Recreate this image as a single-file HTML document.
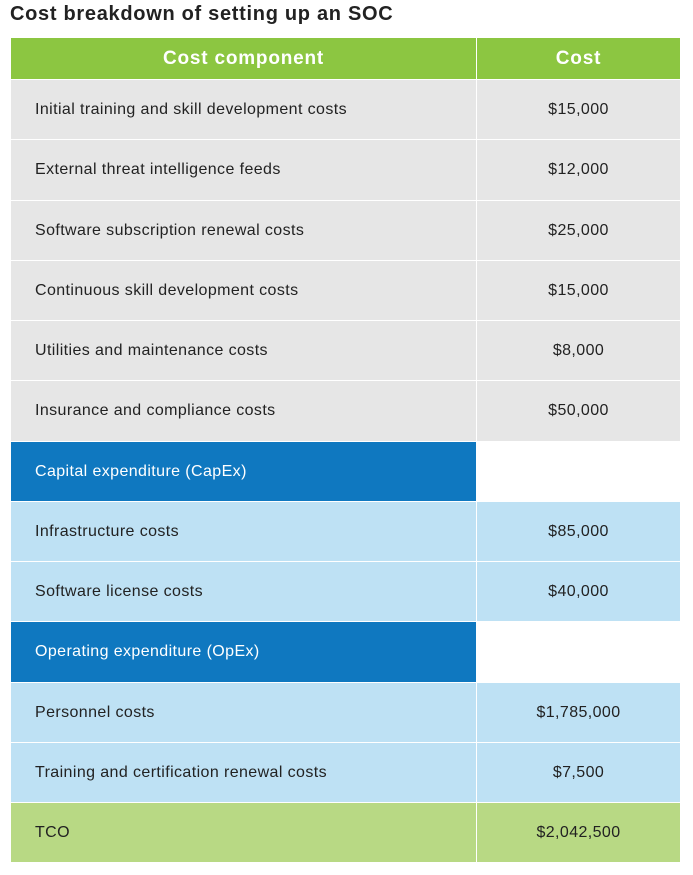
<!DOCTYPE html>
<html><head><meta charset="utf-8"><style>
body{margin:0;width:693px;height:875px;background:#fff;font-family:"Liberation Sans",sans-serif;position:relative;overflow:hidden}
.t{position:absolute;left:10px;top:3px;font-size:20px;font-weight:bold;color:#222;letter-spacing:0.7px}
.c{position:absolute;box-sizing:border-box;display:flex;align-items:center;font-size:16px;letter-spacing:0.4px;color:#222}
.l{left:11px;width:465px;padding-left:24px}
.r{left:477px;width:203px;justify-content:center}
.h{background:#8cc641;color:#fff;font-weight:bold;font-size:19px;letter-spacing:0.8px;justify-content:center;padding-left:0}
</style></head><body>
<div class="t">Cost breakdown of setting up an SOC</div>
<div class="c l h" style="top:38px;height:41px">Cost component</div>
<div class="c r h" style="top:38px;height:41px">Cost</div>
<div id="rows"></div>
<script>
var d=[["Initial training and skill development costs","$15,000","g"],["External threat intelligence feeds","$12,000","g"],["Software subscription renewal costs","$25,000","g"],["Continuous skill development costs","$15,000","g"],["Utilities and maintenance costs","$8,000","g"],["Insurance and compliance costs","$50,000","g"],["Capital expenditure (CapEx)","","b"],["Infrastructure costs","$85,000","lb"],["Software license costs","$40,000","lb"],["Operating expenditure (OpEx)","","b"],["Personnel costs","$1,785,000","lb"],["Training and certification renewal costs","$7,500","lb"],["TCO","$2,042,500","gr"]];
var col={g:"#e6e6e6",b:"#0f78c0",lb:"#bee1f4",gr:"#b8d984"};
var h="";
for(var i=0;i<d.length;i++){var t=Math.round(80+i*60.25),n=Math.round(80+(i+1)*60.25)-1-t;var k=d[i][2];
h+='<div class="c l" style="top:'+t+'px;height:'+n+'px;background:'+col[k]+(k=="b"?';color:#fff':'')+'">'+d[i][0]+'</div>';
h+='<div class="c r" style="top:'+t+'px;height:'+n+'px;background:'+(k=="b"?"#fff":col[k])+'">'+d[i][1]+'</div>';}
document.getElementById("rows").innerHTML=h;
</script>
</body></html>
